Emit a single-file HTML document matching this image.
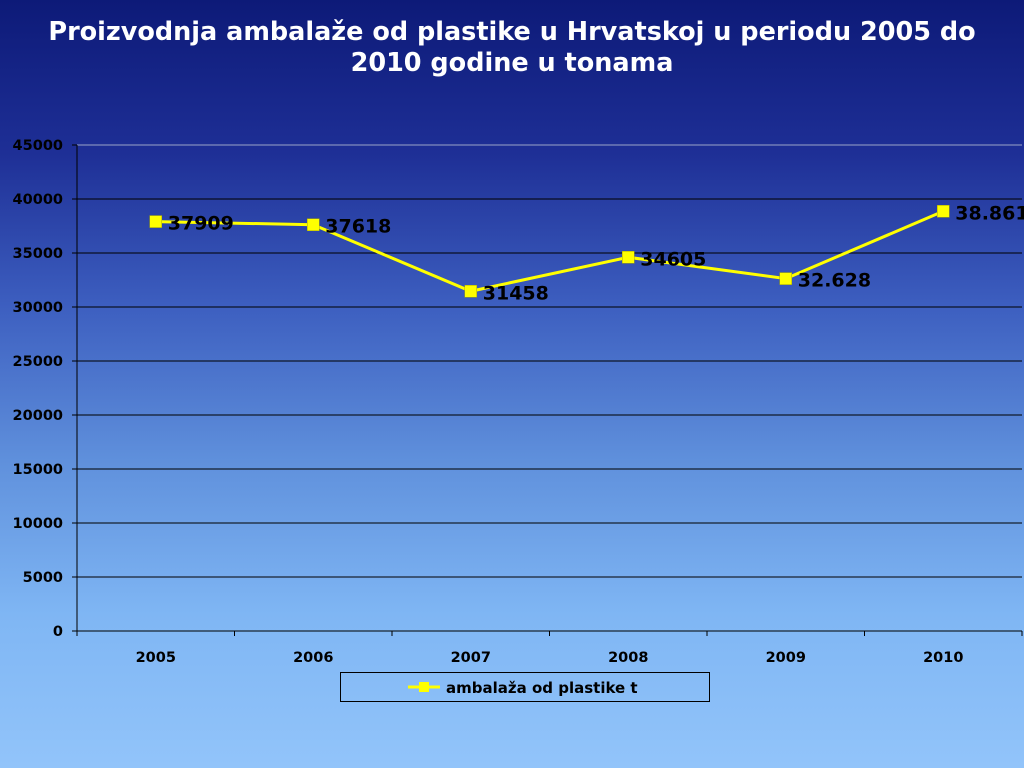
<!DOCTYPE html>
<html><head><meta charset="utf-8"><style>
html,body{margin:0;padding:0;width:1024px;height:768px;overflow:hidden}
body{background:linear-gradient(to bottom,#0d1a78 0%,#1e2f96 20%,#3d5fc0 40%,#5f90dc 60%,#7fb6f4 80%,#92c4fa 100%);font-family:"DejaVu Sans","Liberation Sans",sans-serif}
#title{position:absolute;left:0;top:17px;width:1024px;text-align:center;color:#fff;font-weight:bold;font-size:25.5px;line-height:31px}
svg{position:absolute;left:0;top:0}
</style></head><body>
<div id="title">Proizvodnja ambalaže od plastike u Hrvatskoj u periodu 2005 do<br>2010 godine u tonama</div>
<svg id="chart" width="1024" height="768"></svg>
<script>
const categories=["2005","2006","2007","2008","2009","2010"];
const values=[37909,37618,31458,34605,32628,38861];
const valueLabels=["37909","37618","31458","34605","32.628","38.861"];
const yTicks=[0,5000,10000,15000,20000,25000,30000,35000,40000,45000];
const seriesName="ambalaža od plastike t";
const NS="http://www.w3.org/2000/svg";
const svg=document.getElementById('chart');
const L=77,R=1022,T=145,B=631,maxY=45000;
const y=v=>B-(v/maxY)*(B-T);
const step=(R-L)/categories.length;
const x=i=>L+step*(i+0.5);
function mk(tag,attrs){const e=document.createElementNS(NS,tag);for(const k in attrs)e.setAttribute(k,attrs[k]);svg.appendChild(e);return e;}
yTicks.forEach(t=>{
  if(t>0){const g=mk('line',{x1:L,x2:R,y1:y(t),y2:y(t),stroke:t===maxY?'#9aa4c8':'#000','stroke-width':1});
  
  }
  const tk=mk('line',{x1:L-5,x2:L,y1:y(t),y2:y(t),stroke:'#000'});
  
  
  const tx=mk('text',{x:L-14,y:y(t)+5,'text-anchor':'end','font-size':14.5,'font-weight':'bold',fill:'#000'});
  tx.textContent=t;
  
  
});
const ya=mk('line',{x1:L,x2:L,y1:T,y2:B,stroke:'#000'});


const xa=mk('line',{x1:L,x2:R,y1:B,y2:B,stroke:'#000'});


for(let i=0;i<=categories.length;i++){
  const tk=mk('line',{x1:L+step*i,x2:L+step*i,y1:B,y2:B+5,stroke:'#000'});
  
  
}
categories.forEach((c,i)=>{
  const tx=mk('text',{x:x(i),y:B+31,'text-anchor':'middle','font-size':14.5,'font-weight':'bold',fill:'#000'});
  tx.textContent=c;
  
  
});
const line=mk('polyline',{points:values.map((v,i)=>x(i)+','+y(v)).join(' '),fill:'none',stroke:'#ffff00','stroke-width':3});


values.forEach((v,i)=>{
  const m=mk('rect',{x:x(i)-6,y:y(v)-6,width:12,height:12,fill:'#ffff00',stroke:'#aaaa00','stroke-width':0.5});
  
  
  const tx=mk('text',{x:x(i)+12,y:y(v)+8,'font-size':19,'font-weight':'bold',fill:'#000'});
  tx.textContent=valueLabels[i];
  
  
});
const lb=mk('rect',{x:340.5,y:672.5,width:369,height:29,fill:'none',stroke:'#000','stroke-width':1});


const ll=mk('line',{x1:408,x2:440,y1:687,y2:687,stroke:'#ffff00','stroke-width':3});


const lm=mk('rect',{x:419,y:682,width:10,height:10,fill:'#ffff00'});


const lt=mk('text',{x:446,y:693,'font-size':15,'font-weight':'bold',fill:'#000'});
lt.textContent=seriesName;


</script>
</body></html>
